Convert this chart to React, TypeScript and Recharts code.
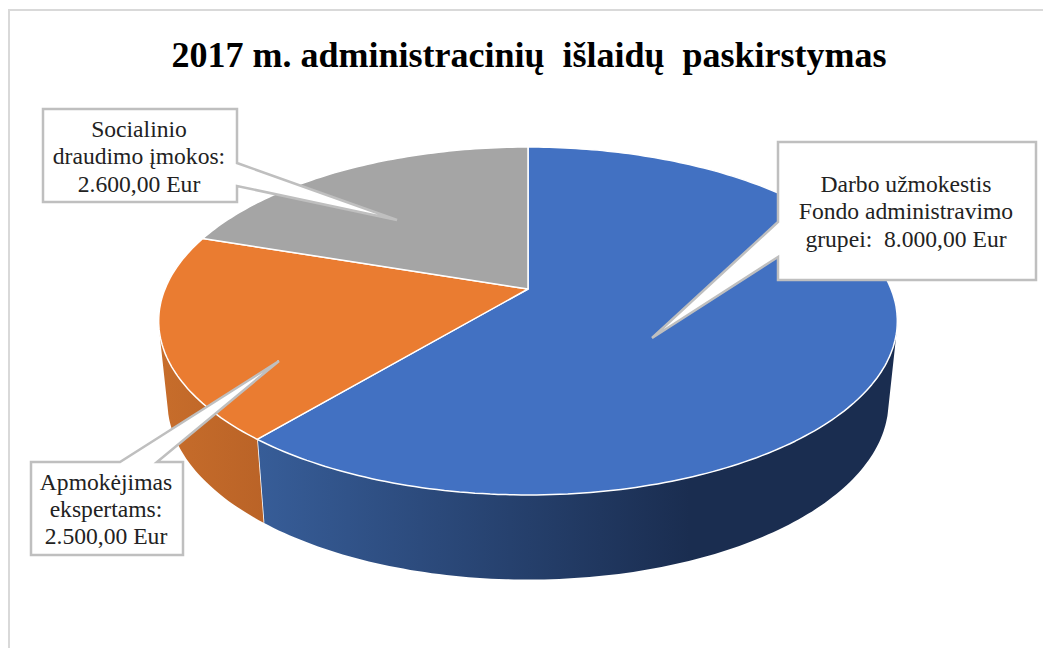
import React from 'react';
import { PieChart, Pie } from 'recharts';

const categories = ['Darbo užmokestis', 'Apmokėjimas ekspertams', 'Socialinio draudimo įmokos'];
const amounts = [8000, 2500, 2600];
const labelLines = [
  ['Darbo užmokestis', 'Fondo administravimo', 'grupei:  8.000,00 Eur'],
  ['Apmokėjimas', 'ekspertams:', '2.500,00 Eur'],
  ['Socialinio', 'draudimo įmokos:', '2.600,00 Eur'],
];
const topColors = ['#4271c2', '#ea7c31', '#a5a5a5'];
const wallFills = ['url(#wallBlue)', 'url(#wallOrange)', 'none'];

const chartData = categories.map((name, i) => ({ name, value: amounts[i] }));

// callout boxes: box [x, y, w, h], tail base points and tip
const callouts = [
  { box: [778, 142, 258, 138], side: 'left', tail: [[778, 257], [652, 338], [778, 222]], textX: 906, baselines: [192, 219, 247] },
  { box: [31, 462, 152, 93], side: 'top', tail: [[120, 462], [279, 361], [157, 462]], textX: 106, baselines: [490, 517, 544] },
  { box: [43, 109, 194, 93], side: 'right', tail: [[237, 163], [397, 220], [237, 186]], textX: 139, baselines: [137, 164, 192] },
];

// perspective of the tilted disc, fitted to the picture
const TILT = 0.463;
const PERSP = -0.184;
const BOTTOM_SCALE_X = 0.976;
const BOTTOM_SCALE_Y = 1.02;
const BOTTOM_DROP = 80.5;
const serif = '"Liberation Serif", "Times New Roman", serif';

const project = (cx: number, cy: number, r: number, deg: number, lower = false) => {
  const a = (deg * Math.PI) / 180;
  const u = Math.cos(a);
  const v = -Math.sin(a);
  const d = 1 + PERSP * v;
  const kx = lower ? BOTTOM_SCALE_X : 1;
  const ky = lower ? BOTTOM_SCALE_Y : 1;
  return [cx + (r * kx * u) / d, cy + (lower ? BOTTOM_DROP : 0) + (r * TILT * ky * v) / d];
};

const fmt = (p: number[]) => `${p[0].toFixed(1)} ${p[1].toFixed(1)}`;

const TiltedSlice = (props: any) => {
  const { cx, cy, outerRadius, startAngle, endAngle, index } = props;
  const pts: number[][] = [];
  const n = Math.max(2, Math.ceil(Math.abs(startAngle - endAngle)));
  for (let i = 0; i <= n; i++) {
    pts.push(project(cx, cy, outerRadius, startAngle + ((endAngle - startAngle) * i) / n));
  }
  const top = `M${cx} ${cy} ` + pts.map((p) => `L${fmt(p)}`).join(' ') + ' Z';

  // side wall, one quad per step so the union gives the outline of the drum
  let wall = '';
  for (let i = 0; i < n; i++) {
    const a0 = startAngle + ((endAngle - startAngle) * i) / n;
    const a1 = startAngle + ((endAngle - startAngle) * (i + 1)) / n;
    if (Math.sin((a0 * Math.PI) / 180) > 0.3) continue;
    const t0 = project(cx, cy, outerRadius, a0);
    const t1 = project(cx, cy, outerRadius, a1);
    const b0 = project(cx, cy, outerRadius, a0, true);
    const b1 = project(cx, cy, outerRadius, a1, true);
    const sign = (t1[0] - t0[0]) * (b0[1] - t0[1]) - (t1[1] - t0[1]) * (b0[0] - t0[0]);
    wall += sign > 0
      ? `M${fmt(t0)} L${fmt(t1)} L${fmt(b1)} L${fmt(b0)} Z `
      : `M${fmt(t0)} L${fmt(b0)} L${fmt(b1)} L${fmt(t1)} Z `;
  }
  const fill = wallFills[index];
  const seamTop = project(cx, cy, outerRadius, endAngle);
  const seamBottom = project(cx, cy, outerRadius, endAngle, true);

  return (
    <g>
      {fill !== 'none' && <path d={wall} fill={fill} stroke="none" />}
      {index === 0 && (
        <line x1={seamTop[0]} y1={seamTop[1]} x2={seamBottom[0]} y2={seamBottom[1]} stroke="#ffffff" strokeWidth={1.5} />
      )}
      <path d={top} fill={topColors[index]} stroke="#ffffff" strokeWidth={1.5} strokeLinejoin="round" />
    </g>
  );
};

const Callout = (props: any) => {
  const { index } = props;
  const c = callouts[index];
  const [x, y, w, h] = c.box;
  const t = c.tail.map((p) => `L${p[0]} ${p[1]}`).join(' ');
  let d = '';
  if (c.side === 'left') d = `M${x} ${y} L${x + w} ${y} L${x + w} ${y + h} L${x} ${y + h} ${t} Z`;
  if (c.side === 'top') d = `M${x} ${y} ${t} L${x + w} ${y} L${x + w} ${y + h} L${x} ${y + h} Z`;
  if (c.side === 'right') d = `M${x} ${y} L${x + w} ${y} ${t} L${x + w} ${y + h} L${x} ${y + h} Z`;
  return (
    <g>
      <path d={d} fill="#ffffff" stroke="#bfbfbf" strokeWidth={2.5} />
      {labelLines[index].map((line, i) => (
        <text
          key={line}
          x={c.textX}
          y={c.baselines[i]}
          textAnchor="middle"
          fontFamily={serif}
          fontSize={23.6}
          fill="#222222"
          style={{ whiteSpace: 'pre' }}
        >
          {line}
        </text>
      ))}
    </g>
  );
};

const App: React.FC = () => {
  return (
    <div style={{ position: 'absolute', left: 0, top: 0, width: 1043, height: 648, background: '#ffffff', overflow: 'hidden' }}>
      <div style={{ position: 'absolute', left: 8, top: 9, width: 1100, height: 700, border: '2px solid #d9d9d9' }} />
      <div style={{ position: 'absolute', left: 0, top: 0 }}>
        <PieChart width={1043} height={648} margin={{ top: 0, right: 0, bottom: 0, left: 0 }}>
          <defs>
            <linearGradient id="wallBlue" gradientUnits="userSpaceOnUse" x1="258" y1="0" x2="690" y2="0">
              <stop offset="0" stopColor="#375d98" />
              <stop offset="1" stopColor="#1a2d50" />
            </linearGradient>
            <linearGradient id="wallOrange" gradientUnits="userSpaceOnUse" x1="160" y1="0" x2="264" y2="0">
              <stop offset="0" stopColor="#c76d2b" />
              <stop offset="1" stopColor="#ba6327" />
            </linearGradient>
          </defs>
          <text
            x={529}
            y={67}
            textAnchor="middle"
            fontFamily={serif}
            fontWeight="bold"
            fontSize={36}
            fill="#000000"
            style={{ whiteSpace: 'pre' }}
          >
            {'2017 m. administracinių  išlaidų  paskirstymas'}
          </text>
          <Pie
            data={chartData}
            dataKey="value"
            nameKey="name"
            cx={528}
            cy={289}
            outerRadius={363}
            startAngle={90}
            endAngle={-270}
            stroke="none"
            isAnimationActive={false}
            shape={TiltedSlice}
            label={Callout}
            labelLine={false}
          />
        </PieChart>
      </div>
    </div>
  );
};

export default App;
